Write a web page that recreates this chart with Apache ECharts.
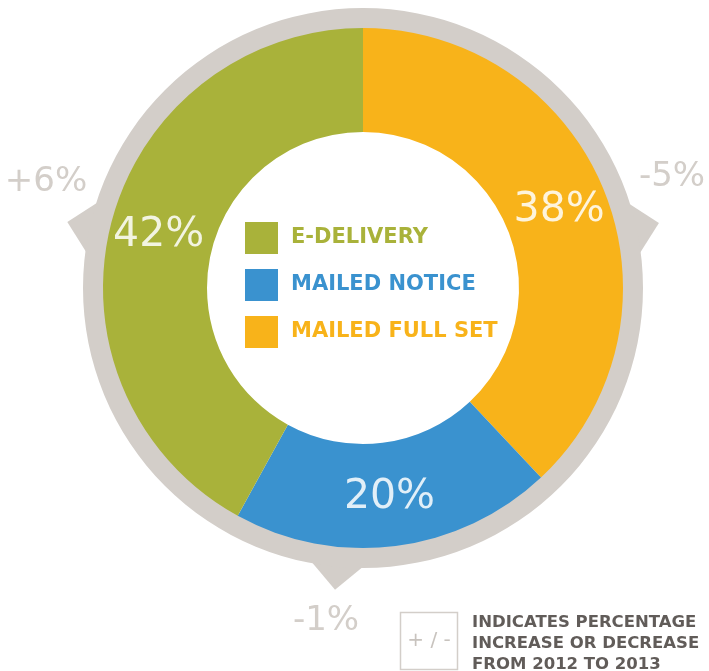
<!DOCTYPE html>
<html>
<head>
<meta charset="utf-8">
<script src="https://cdn.jsdelivr.net/npm/echarts@6/dist/echarts.min.js"></script>
<style>
  html, body { margin: 0; padding: 0; background: #fff; }
  #chart { width: 709px; height: 671px; }
</style>
</head>
<body>
<div id="chart"></div>
<script>
var categories = ['MAILED FULL SET', 'MAILED NOTICE', 'E-DELIVERY'];
var shares = [38, 20, 42];
var colors = ['#f8b31a', '#3a92cf', '#a9b23a'];
var changes = ['-5%', '-1%', '+6%'];
var pointerAngles = [12.4, -95.3, 167.4];   // degrees, math convention
var legendOrder = ['E-DELIVERY', 'MAILED NOTICE', 'MAILED FULL SET'];

(function() {
  var gray = '#d3cec9';
  var cx = 363, cy = 288;
  var ringR = 280, tipR = 303, halfW = 6;
  var font = '"DejaVu Sans", sans-serif';

  function pt(r, deg) {
    var a = deg * Math.PI / 180;
    return [cx + r * Math.cos(a), cy - r * Math.sin(a)];
  }

  var graphics = [];
  pointerAngles.forEach(function(a) {
    graphics.push({
      type: 'polygon', z: 0,
      shape: { points: [pt(ringR - 4, a - halfW), pt(tipR, a), pt(ringR - 4, a + halfW)] },
      style: { fill: gray }
    });
  });

  var labelPos = [[672, 177], [326, 621], [46, 182]];
  changes.forEach(function(t, i) {
    graphics.push({
      type: 'text', z: 10,
      x: labelPos[i][0], y: labelPos[i][1],
      style: { text: t, fill: gray, font: '400 34px ' + font, align: 'center', verticalAlign: 'middle' }
    });
  });

  // key box
  graphics.push({
    type: 'rect', z: 10,
    shape: { x: 400.5, y: 612.5, width: 57, height: 57 },
    style: { fill: 'none', stroke: gray, lineWidth: 1.5 }
  });
  graphics.push({
    type: 'text', z: 10, x: 429, y: 641,
    style: { text: '+ / -', fill: '#c8c3be', font: '400 20px ' + font, align: 'center', verticalAlign: 'middle' }
  });
  graphics.push({
    type: 'text', z: 10, x: 472, y: 612,
    style: {
      text: 'INDICATES PERCENTAGE\nINCREASE OR DECREASE\nFROM 2012 TO 2013',
      fill: '#615c59', font: '700 16.5px ' + font, lineHeight: 21, verticalAlign: 'top'
    }
  });

  var chart = echarts.init(document.getElementById('chart'), null, { renderer: 'canvas' });
  chart.setOption({
    animation: false,
    color: colors,
    legend: {
      orient: 'vertical',
      left: 245, top: 222,
      padding: 0,
      icon: 'rect',
      itemWidth: 33, itemHeight: 32,
      itemGap: 15,
      selectedMode: false,
      data: legendOrder.map(function(n) {
        return { name: n, textStyle: { color: colors[categories.indexOf(n)] } };
      }),
      textStyle: { fontFamily: font, fontSize: 21, fontWeight: 'bold', padding: [0, 0, 0, 8] }
    },
    graphic: graphics,
    series: [
      {
        type: 'pie',
        center: [cx, cy],
        radius: [258, ringR],
        silent: true,
        z: 1,
        label: { show: false },
        itemStyle: { color: gray },
        data: [{ name: 'ring', value: 1 }]
      },
      {
        type: 'pie',
        center: [cx, cy],
        radius: [156, 260],
        startAngle: 90,
        clockwise: true,
        z: 2,
        label: {
          show: true,
          position: 'inside',
          formatter: '{c}%',
          color: 'rgba(255,255,255,0.85)',
          fontFamily: font,
          fontSize: 41,
          fontWeight: 400
        },
        labelLine: { show: false },
        itemStyle: { borderWidth: 0 },
        data: categories.map(function(n, i) { return { name: n, value: shares[i] }; })
      }
    ]
  });
})();
</script>
</body>
</html>
